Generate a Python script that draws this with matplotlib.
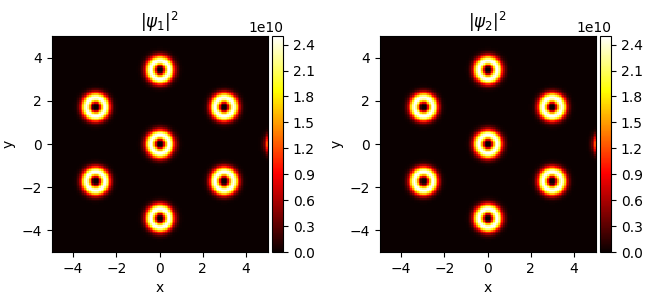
import numpy as np
import matplotlib
matplotlib.use("Agg")
import matplotlib.pyplot as plt

# vortex centres (hexagonal cluster plus one just outside the right edge)
centers_x = [0.0, 0.0, 0.0, 3.0, 3.0, -3.0, -3.0, 5.65]
centers_y = [0.0, 3.46, -3.46, 1.73, -1.73, 1.73, -1.73, 0.0]
ring_radius = 0.43          # radius of the bright ring
core_power = 1.6            # steepness of the vortex core
peak_density = 2.5e10       # density on the ring
titles = [r"$|\psi_1|^2$", r"$|\psi_2|^2$"]
cbar_ticks = [0.0, 0.3, 0.6, 0.9, 1.2, 1.5, 1.8, 2.1, 2.4]

n = 128
x = np.linspace(-5, 5, n)
y = np.linspace(-5, 5, n)
X, Y = np.meshgrid(x, y)


def density(cx, cy):
    rho = np.zeros_like(X)
    for x0, y0 in zip(cx, cy):
        u = ((X - x0) ** 2 + (Y - y0) ** 2) / ring_radius ** 2
        rho += peak_density * (u * np.exp(1 - u)) ** core_power
    return rho


fig = plt.figure(figsize=(6.53, 3.05), dpi=100)
ax_pos = [(51 / 653, 272 / 653), (379 / 653, 600 / 653)]
bottom, height = 53 / 305, 216 / 305

for (left, cleft), title in zip(ax_pos, titles):
    ax = fig.add_axes([left, bottom, 217 / 653, height])
    cax = fig.add_axes([cleft, bottom, 11 / 653, height])
    rho = density(centers_x, centers_y)
    im = ax.imshow(rho, cmap="hot", origin="lower", extent=[-5, 5, -5, 5],
                   vmin=0, vmax=rho.max(), interpolation="nearest")
    ax.set_xticks([-4, -2, 0, 2, 4])
    ax.set_yticks([-4, -2, 0, 2, 4])
    ax.set_xlabel("x")
    ax.set_ylabel("y")
    ax.set_title(title)
    cb = fig.colorbar(im, cax=cax)
    cb.set_ticks([t * 1e10 for t in cbar_ticks])

fig.savefig("out.png", dpi=100)
